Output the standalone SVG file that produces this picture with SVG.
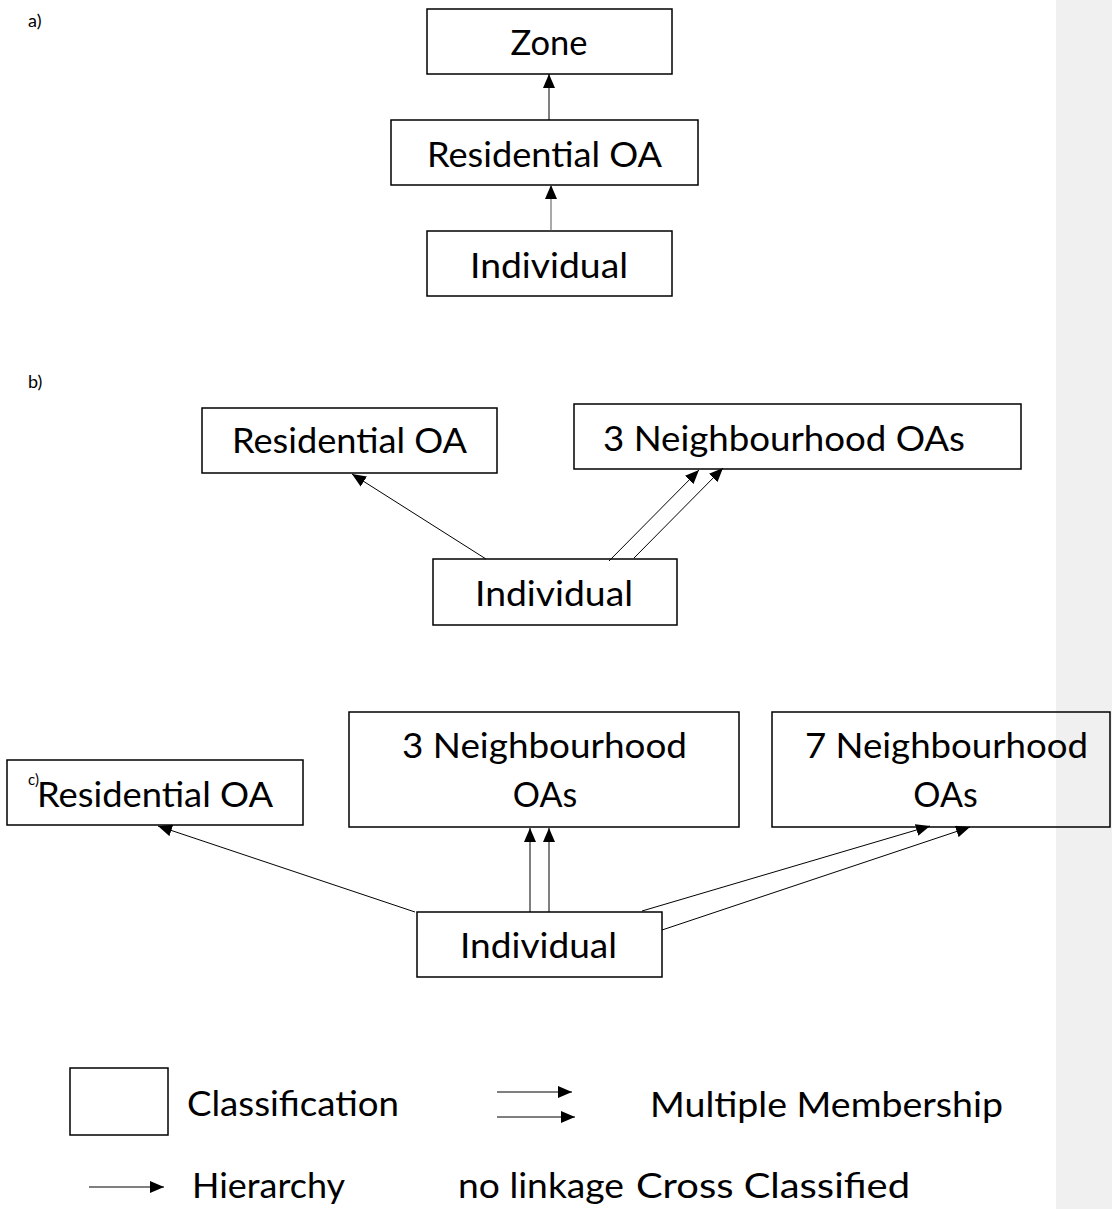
<svg xmlns="http://www.w3.org/2000/svg" width="1112" height="1209" viewBox="0 0 1112 1209">
<defs>
<marker id="ah" viewBox="0 0 14 12" refX="14" refY="6" markerWidth="14" markerHeight="12" markerUnits="userSpaceOnUse" orient="auto">
<path d="M0,0 L14,6 L0,12 z" fill="#000"/>
</marker>
<style>
.box{fill:none;stroke:#000;stroke-width:1.5}
.t{font-family:Lato,"Open Sans",sans-serif;font-size:34px;fill:#000}
.m{text-anchor:middle}
.lab{font-family:Lato,"Open Sans",sans-serif;font-size:18px;fill:#000}
.ar{stroke:#000;stroke-width:1;fill:none;marker-end:url(#ah)}
</style>
</defs>
<rect x="0" y="0" width="1112" height="1209" fill="#fff"/>
<rect x="1056" y="0" width="56" height="1209" fill="#f0f0f0"/>

<text class="lab" x="28" y="27">a)</text>
<text class="lab" x="28" y="388">b)</text>
<text class="lab" x="28" y="785" style="font-size:15px">c)</text>

<g id="a-zone"><rect class="box" x="427" y="9" width="245" height="65"/><text class="t m" x="549" y="55" textLength="77" lengthAdjust="spacingAndGlyphs">Zone</text></g>
<g id="a-residential"><rect class="box" x="391" y="120" width="307" height="65"/><text class="t m" x="544.5" y="167" textLength="235" lengthAdjust="spacingAndGlyphs">Residential OA</text></g>
<g id="a-individual"><rect class="box" x="427" y="231" width="245" height="65"/><text class="t m" x="549" y="278" textLength="158" lengthAdjust="spacingAndGlyphs">Individual</text></g>

<g id="b-residential"><rect class="box" x="202" y="408" width="295" height="65"/><text class="t m" x="349.5" y="453" textLength="235" lengthAdjust="spacingAndGlyphs">Residential OA</text></g>
<g id="b-neigh3"><rect class="box" x="574" y="404" width="447" height="65"/><text class="t m" x="784" y="451" textLength="362" lengthAdjust="spacingAndGlyphs">3 Neighbourhood OAs</text></g>
<g id="b-individual"><rect class="box" x="433" y="559" width="244" height="66"/><text class="t m" x="554" y="606" textLength="158" lengthAdjust="spacingAndGlyphs">Individual</text></g>

<g id="c-residential"><rect class="box" x="7" y="760" width="296" height="65"/><text class="t m" x="155" y="807" textLength="236" lengthAdjust="spacingAndGlyphs">Residential OA</text></g>
<g id="c-neigh3"><rect class="box" x="349" y="712" width="390" height="115"/><text class="t m" x="544.5" y="758" textLength="285" lengthAdjust="spacingAndGlyphs">3 Neighbourhood</text><text class="t m" x="545" y="807">OAs</text></g>
<g id="c-neigh7"><rect class="box" x="772" y="712" width="338" height="115"/><text class="t m" x="946.5" y="758" textLength="283" lengthAdjust="spacingAndGlyphs">7 Neighbourhood</text><text class="t m" x="945.5" y="807">OAs</text></g>
<g id="c-individual"><rect class="box" x="417" y="912" width="245" height="65"/><text class="t m" x="538.5" y="958" textLength="157" lengthAdjust="spacingAndGlyphs">Individual</text></g>

<g id="connectors">
<line class="ar" x1="549" y1="120" x2="549" y2="74"/>
<line class="ar" x1="551" y1="231" x2="551" y2="185" style="stroke:#555"/>
<line class="ar" x1="486" y1="559" x2="352" y2="474"/>
<line class="ar" x1="609" y1="561" x2="699" y2="470"/>
<line class="ar" x1="634" y1="558" x2="723" y2="468"/>
<line class="ar" x1="415" y1="912" x2="158" y2="826"/>
<line class="ar" x1="530" y1="912" x2="530" y2="828"/>
<line class="ar" x1="549" y1="912" x2="549" y2="828"/>
<line class="ar" x1="642" y1="911" x2="930" y2="826"/>
<line class="ar" x1="662" y1="930" x2="970" y2="827"/>
</g>

<g id="legend">
<rect class="box" x="70" y="1068" width="98" height="67"/>
<text class="t" x="187" y="1116" textLength="212" lengthAdjust="spacingAndGlyphs">Classification</text>
<line class="ar" x1="497" y1="1092" x2="572" y2="1092"/>
<line class="ar" x1="497" y1="1117" x2="575" y2="1117"/>
<text class="t" x="650" y="1117" textLength="353" lengthAdjust="spacingAndGlyphs">Multiple Membership</text>
<line class="ar" x1="89" y1="1187" x2="164" y2="1187"/>
<text class="t" x="192" y="1198" textLength="153" lengthAdjust="spacingAndGlyphs">Hierarchy</text>
<text class="t" x="458" y="1198" textLength="166" lengthAdjust="spacingAndGlyphs">no linkage</text>
<text class="t" x="636" y="1198" textLength="274" lengthAdjust="spacingAndGlyphs">Cross Classified</text>
</g>
</svg>
